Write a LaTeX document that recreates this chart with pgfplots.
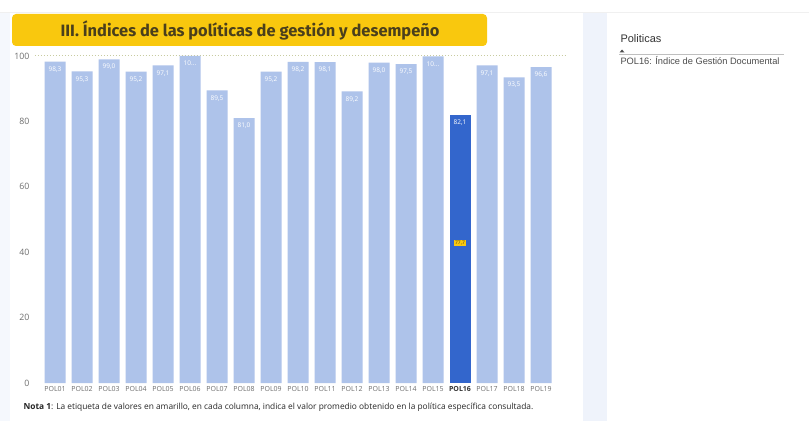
\documentclass[border=0pt]{standalone}
\usepackage{pgfplots}
\pgfplotsset{compat=1.18}
\usepackage{pgfplotstable}
\usepackage{fontspec}
\setmainfont{Open Sans}
\newfontfamily\titlefont{Fira Sans}
\newfontfamily\arialfont{Liberation Sans}
\definecolor{barlight}{HTML}{AEC3EA}
\definecolor{bardark}{HTML}{3366CC}
\definecolor{titleyellow}{HTML}{F9C80E}
\definecolor{titletext}{HTML}{4A3F1C}
\definecolor{panelblue}{HTML}{EFF3FB}
\definecolor{ticktext}{HTML}{6E6E6E}
\definecolor{refline}{HTML}{C8CBA0}

\pgfplotstableread{
x y lab
1 98.3 98,3
2 95.3 95,3
3 99.0 99,0
4 95.2 95,2
5 97.1 97,1
6 100.0 10...
7 89.5 89,5
8 81.0 81,0
9 95.2 95,2
10 98.2 98,2
11 98.1 98,1
12 89.2 89,2
13 98.0 98,0
14 97.5 97,5
15 99.9 10...
17 97.1 97,1
18 93.5 93,5
19 96.6 96,6
}\lighttab
\pgfplotstableread{
x y lab
16 82.1 82,1
}\darktab

\begin{document}
\begin{tikzpicture}
% backgrounds
\path[use as bounding box] (0bp,0bp) rectangle (809bp,421bp);
\fill[white] (0bp,0bp) rectangle (809bp,421bp);
\fill[panelblue!60] (0bp,0bp) rectangle (10bp,409bp);
\fill[panelblue] (583bp,0bp) rectangle (607bp,409bp);
\draw[gray!12, line width=0.6bp] (0bp,409bp) -- (809bp,409bp);
% title
\fill[titleyellow, rounded corners=4bp] (12bp,375bp) rectangle (487bp,407bp);
\node[font=\titlefont\bfseries\fontsize{16.5}{18}\selectfont, text=titletext] at (250bp,391bp) {III. Índices de las políticas de gestión y desempeño};
% axis
\begin{axis}[
  at={(35bp,38bp)}, anchor=south west,
  scale only axis, width=530bp, height=327bp,
  xmin=0.259, xmax=19.889, ymin=0, ymax=100,
  clip=false,
  ybar, bar width=21bp,
  axis line style={draw=none},
  major tick length=0pt,
  ytick={0,20,40,60,80,100},
  xtick={1,...,19},
  xticklabels={POL01,POL02,POL03,POL04,POL05,POL06,POL07,POL08,POL09,POL10,POL11,POL12,POL13,POL14,POL15,{\textbf{\color{black!80}POL16}},POL17,POL18,POL19},
  /pgf/number format/assume math mode=true,
  yticklabel style={font=\fontsize{8.8}{10}\selectfont, text=ticktext, xshift=-2bp},
  xticklabel style={font=\fontsize{7}{8}\selectfont, text=ticktext},
  nodes near coords,
  point meta=explicit symbolic,
  every node near coord/.append style={anchor=north, yshift=-1.5bp, font=\fontsize{6.5}{7}\selectfont, text=white},
]
\addplot[sharp plot, forget plot, nodes near coords={}, dotted, draw=refline, line width=1bp] coordinates {(0.259,100) (19.889,100)};
\addplot[fill=barlight, draw=none, bar shift=0pt] table[x=x, y=y, meta=lab] {\lighttab};
\addplot[fill=bardark, draw=none, bar shift=0pt] table[x=x, y=y, meta=lab] {\darktab};
\node[fill=titleyellow, inner sep=1.2bp, font=\fontsize{5}{6}\selectfont, text=titletext] at (axis cs:16,42.8) {77,7};
\end{axis}
% note
\node[anchor=west, font=\fontsize{8.4}{10}\selectfont, text=black!85] at (20bp,14bp) {\textbf{Nota 1}: La etiqueta de valores en amarillo, en cada columna, indica el valor promedio obtenido en la política específica consultada.};
% right panel
\node[anchor=west, font=\arialfont\fontsize{11}{13}\selectfont, text=black!80] at (617bp,382bp) {Politicas};
\fill[black!70] (619.5bp,368.5bp) -- (624.5bp,368.5bp) -- (622bp,371.5bp) -- cycle;
\draw[black!25, line width=0.6bp] (619bp,367bp) -- (784bp,367bp);
\node[anchor=west, font=\arialfont\fontsize{9.3}{11}\selectfont, text=black!70] at (617bp,360bp) {POL16: Índice de Gestión Documental};
\end{tikzpicture}
\end{document}
